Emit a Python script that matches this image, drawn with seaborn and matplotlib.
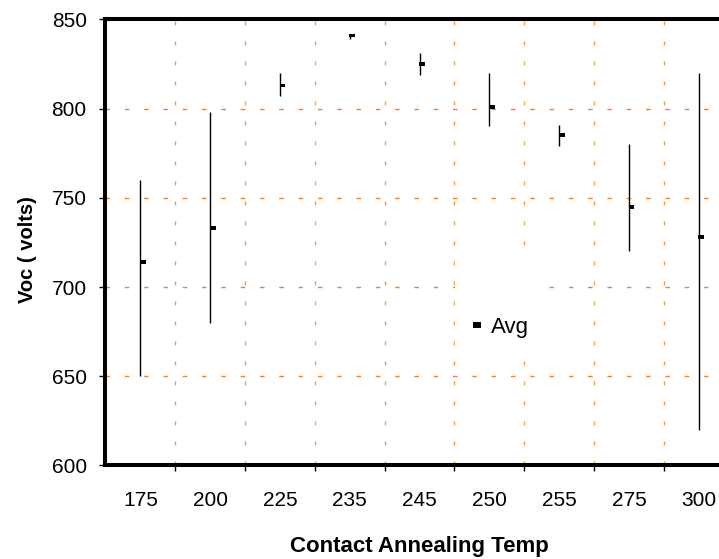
import matplotlib
matplotlib.use("Agg")
import matplotlib.pyplot as plt
from matplotlib.patches import Rectangle
import numpy as np
import pandas as pd
import seaborn as sns

# Open-circuit voltage vs contact annealing temperature
temps = ["175", "200", "225", "235", "245", "250", "255", "275", "300"]
voc_avg = [714, 733, 813, 841, 825, 801, 785, 745, 728]
voc_max = [760, 798, 820, 841, 831, 820, 791, 780, 820]
voc_min = [650, 680, 807, 839, 819, 790, 779, 720, 620]
y_ticks = [600, 650, 700, 750, 800, 850]

sns.set_style("white")
plt.rcParams["font.family"] = ["Liberation Sans", "DejaVu Sans"]
plt.rcParams.update({"text.color": "black", "axes.labelcolor": "black",
                     "xtick.color": "black", "ytick.color": "black"})

df = pd.DataFrame({"temp": temps, "avg": voc_avg, "lo": voc_min, "hi": voc_max})
df["pos"] = np.arange(len(df))

fig = plt.figure(figsize=(7.19, 5.59), dpi=100)
ax = fig.add_axes([0.1467, 0.1673, 0.8737, 0.7979])

# min-max range of each temperature
ax.vlines(df["pos"], df["lo"], df["hi"], color="black", linewidth=1.0, zorder=3)

# average marker: small flat black block beside the range line
rect = [(-1.5, -1.0), (1.5, -1.0), (1.5, 1.0), (-1.5, 1.0), (-1.5, -1.0)]
sns.scatterplot(x=df["pos"] + 0.036, y=df["avg"], marker=rect, s=18,
                color="black", edgecolor="none", linewidth=0, ax=ax,
                label="Avg", zorder=4, legend=False)

ax.set_xlim(-0.5, len(temps) - 0.5)
ax.set_ylim(600, 850)
ax.set_yticks(y_ticks)
ax.set_xticks(df["pos"])
ax.set_xticklabels(temps)
ax.set_xticks(np.arange(len(temps)) + 0.5, minor=True)

# dashed orange grid
ax.set_axisbelow(True)
ax.yaxis.grid(True, which="major", color="#FF7F1A", linewidth=1.0,
              linestyle=(0, (3.3, 10.6)))
ax.xaxis.grid(True, which="minor", color="#F2A33A", linewidth=1.0,
              linestyle=(0, (3.0, 11.4)))
ax.xaxis.grid(False, which="major")

for side in ["left", "bottom", "top", "right"]:
    ax.spines[side].set_linewidth(2.9)
    ax.spines[side].set_color("black")
    ax.spines[side].set_capstyle("projecting")

ax.tick_params(axis="y", which="major", direction="out", length=4,
               width=1, color="black", pad=9.5, labelsize=15, left=True)
ax.tick_params(axis="x", which="major", length=0, pad=18.5, labelsize=15,
               bottom=True)
ax.tick_params(axis="x", which="minor", direction="out", length=4,
               width=1, color="black", bottom=True)

ax.set_xlabel("Contact Annealing Temp", fontsize=16, fontweight="bold",
              labelpad=18.5)
ax.set_ylabel("Voc ( volts)", fontsize=14.5, fontweight="bold")
ax.yaxis.set_label_coords(-0.109, 0.484)

# legend on a white patch
ax.add_patch(Rectangle((0.556, 0.259), 0.1305, 0.213, transform=ax.transAxes,
                       facecolor="white", edgecolor="none", zorder=2))
handle = plt.Line2D([], [], linestyle="none", marker=rect, markersize=5.5,
                    color="black", markeredgewidth=0)
ax.legend([handle], ["Avg"], loc="center left",
          bbox_to_anchor=(0.583, 0.309), frameon=False, fontsize=16,
          handlelength=0.5, handletextpad=0.35, borderpad=0,
          borderaxespad=0)

fig.savefig("out.png", dpi=100)
